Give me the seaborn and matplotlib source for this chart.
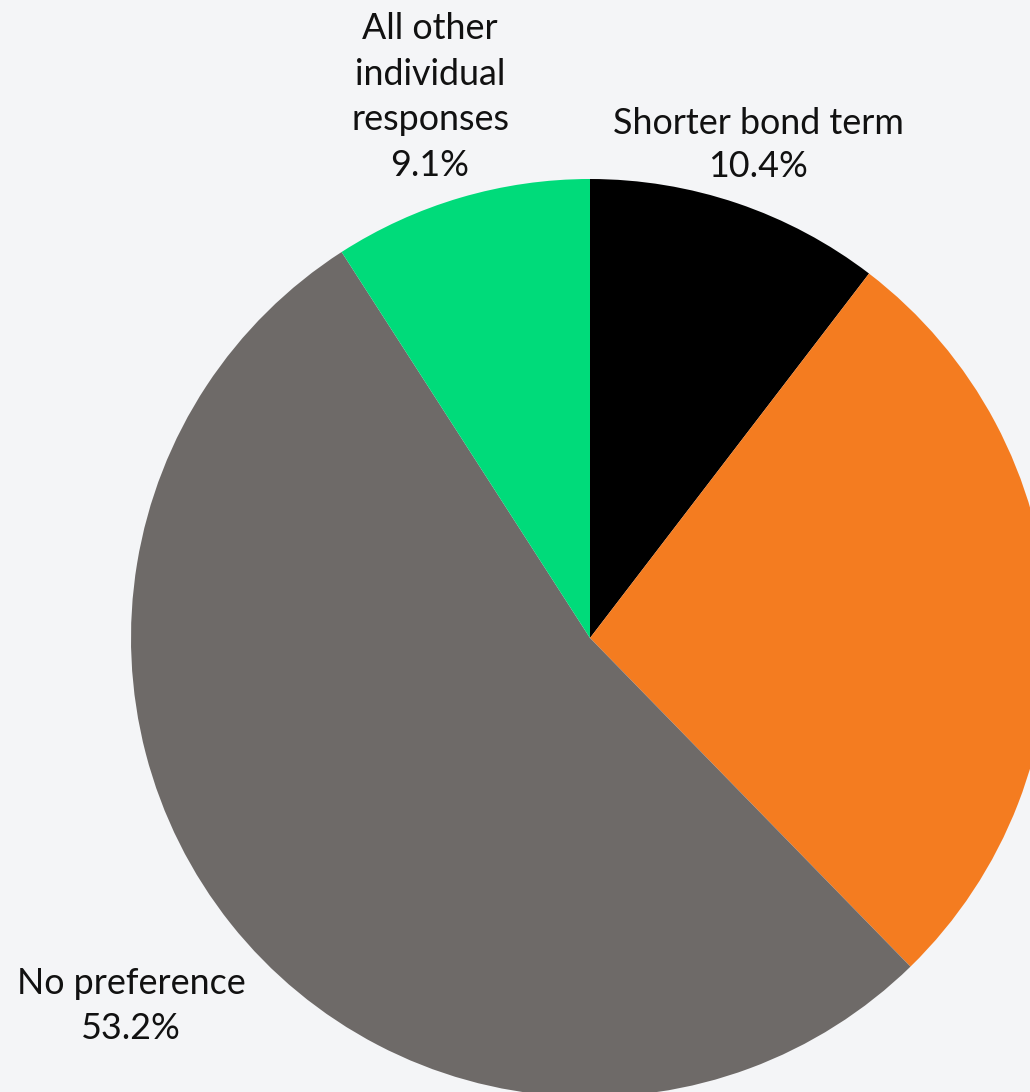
import matplotlib
matplotlib.use("Agg")
import matplotlib.pyplot as plt
import seaborn as sns

categories = ["Shorter bond term", "Longer bond term", "No preference", "All other individual responses"]
values = [10.4, 27.3, 53.2, 9.1]
colors = ["#000000", "#f47c20", "#6e6a68", "#00db7a"]
label_text = ["Shorter bond term\n10.4%", "", "No preference\n53.2%", "All other\nindividual\nresponses\n9.1%"]

sns.set_theme(style="white")
plt.rcParams["font.family"] = ["Lato", "DejaVu Sans"]

W, H = 1030, 1092
bg = "#f4f5f7"
fig = plt.figure(figsize=(W / 100, H / 100), dpi=100, facecolor=bg)
ax = fig.add_axes([0, 0, 1, 1])
ax.set_facecolor(bg)

cx, cy, r = 590, H - 638, 459
ax.pie(values, colors=colors, startangle=90, counterclock=False,
       center=(cx, cy), radius=r, wedgeprops=dict(linewidth=0))
ax.set_xlim(0, W)
ax.set_ylim(0, H)
ax.set_aspect("equal")
ax.axis("off")

label_pos = [(758, H - 145), None, (131, H - 1006), (430, H - 97)]
spacing = [1.36, 1.36, 1.42, 1.46]
for txt, pos, ls in zip(label_text, label_pos, spacing):
    if pos is None or not txt:
        continue
    ax.text(pos[0], pos[1], txt, ha="center", va="center", fontsize=25.8,
            color="#111111", linespacing=ls)

fig.savefig("out.png", dpi=100, facecolor=bg)
